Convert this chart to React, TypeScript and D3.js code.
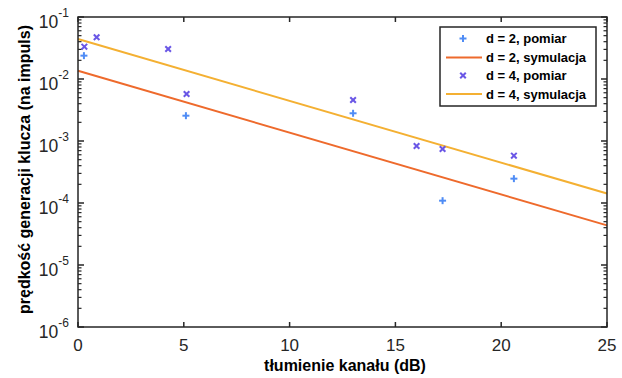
import React from "react";
import * as d3 from "d3";

const W = 622, H = 378;
const M = { left: 78, right: 15, top: 17, bottom: 51 };

const xTicks = [0, 5, 10, 15, 20, 25];
const yExponents = [-1, -2, -3, -4, -5, -6];

const d2MeasX = [0.28, 5.1, 13.0, 17.23, 20.6];
const d2MeasY = [0.0238, 0.00256, 0.0028, 1.09e-4, 2.47e-4];

const d4MeasX = [0.3, 0.88, 4.26, 5.13, 13.0, 16.0, 17.23, 20.6];
const d4MeasY = [0.0332, 0.0471, 0.0305, 0.00573, 0.00458, 8.3e-4, 7.43e-4, 5.8e-4];

const simX = [0, 25];
const d2SimY = [0.0136, 4.35e-5];
const d4SimY = [0.0441, 1.42e-4];

const legendLabels = ["d = 2, pomiar", "d = 2, symulacja", "d = 4, pomiar", "d = 4, symulacja"];

const C_PLUS = "#4f8cf5";
const C_X = "#6a57e6";
const C_ORANGE = "#ee6a2c";
const C_YELLOW = "#f4b032";
const AX = "#262626";
const FONT = "'Liberation Sans', Arial, Helvetica, sans-serif";

export default function App() {
  const x = d3.scaleLinear().domain([0, 25]).range([M.left, W - M.right]);
  const y = d3.scaleLog().domain([1e-6, 1e-1]).range([H - M.bottom, M.top]);
  const x0 = x.range()[0], x1 = x.range()[1];
  const yb = y.range()[0], yt = y.range()[1];

  const line = d3.line<number>().x((_, i) => x(simX[i])).y((v) => y(v));

  const minor: number[] = [];
  for (let e = -6; e < -1; e++) {
    for (let k = 2; k <= 9; k++) minor.push(k * Math.pow(10, e));
  }

  const plus = (cx: number, cy: number, c: string, key: string) => (
    <g key={key} stroke={c} strokeWidth={2}>
      <line x1={cx - 3.5} x2={cx + 3.5} y1={cy} y2={cy} />
      <line x1={cx} x2={cx} y1={cy - 3.5} y2={cy + 3.5} />
    </g>
  );
  const cross = (cx: number, cy: number, c: string, key: string) => (
    <g key={key} stroke={c} strokeWidth={2}>
      <line x1={cx - 2.8} x2={cx + 2.8} y1={cy - 2.8} y2={cy + 2.8} />
      <line x1={cx - 2.8} x2={cx + 2.8} y1={cy + 2.8} y2={cy - 2.8} />
    </g>
  );

  const lg = { x: 440, y: 27, w: 156, h: 79 };
  const rowY = [38.5, 57.5, 75.5, 94];

  return (
    <svg width={W} height={H} style={{ position: "absolute", left: 0, top: 0, background: "#fff" }} fontFamily={FONT}>
      <rect x={0} y={0} width={W} height={H} fill="#fff" />
      {/* simulation lines */}
      <path d={line(d2SimY) || ""} fill="none" stroke={C_ORANGE} strokeWidth={2} />
      <path d={line(d4SimY) || ""} fill="none" stroke={C_YELLOW} strokeWidth={2} />
      {/* measurements */}
      {d2MeasX.map((v, i) => plus(x(v), y(d2MeasY[i]), C_PLUS, "p" + i))}
      {d4MeasX.map((v, i) => cross(x(v), y(d4MeasY[i]), C_X, "c" + i))}

      {/* axes box */}
      <rect x={x0} y={yt} width={x1 - x0} height={yb - yt} fill="none" stroke={AX} strokeWidth={1.5} />
      {/* x ticks */}
      {xTicks.map((t) => (
        <g key={"xt" + t}>
          <line x1={x(t)} x2={x(t)} y1={yb} y2={yb - 5} stroke={AX} strokeWidth={1.5} />
          <line x1={x(t)} x2={x(t)} y1={yt} y2={yt + 5} stroke={AX} strokeWidth={1.5} />
          <text x={x(t)} y={yb + 24} textAnchor="middle" fontSize={17} fill={AX}>{t}</text>
        </g>
      ))}
      {/* y ticks */}
      {yExponents.map((e) => {
        const yy = y(Math.pow(10, e));
        return (
          <g key={"yt" + e}>
            <line x1={x0} x2={x0 + 6} y1={yy} y2={yy} stroke={AX} strokeWidth={1.5} />
            <line x1={x1} x2={x1 - 6} y1={yy} y2={yy} stroke={AX} strokeWidth={1.5} />
            <text x={x0 - 9} y={yy + 11} textAnchor="end" fontSize={17.5} fill={AX}>
              10<tspan dy={-11} fontSize={12}>{e}</tspan>
            </text>
          </g>
        );
      })}
      {minor.map((v, i) => (
        <g key={"m" + i}>
          <line x1={x0} x2={x0 + 3.5} y1={y(v)} y2={y(v)} stroke={AX} strokeWidth={1.2} />
          <line x1={x1} x2={x1 - 3.5} y1={y(v)} y2={y(v)} stroke={AX} strokeWidth={1.2} />
        </g>
      ))}

      {/* axis labels */}
      <text x={345} y={371} textAnchor="middle" fontSize={16} fontWeight="bold" fill="#000">
        tłumienie kanału (dB)
      </text>
      <text transform={`translate(30,${169.5}) rotate(-90)`} textAnchor="middle" fontSize={16} fontWeight="bold" fill="#000">
        prędkość generacji klucza (na impuls)
      </text>

      {/* legend */}
      <rect x={lg.x} y={lg.y} width={lg.w} height={lg.h} fill="#fff" stroke={AX} strokeWidth={1.5} />
      {legendLabels.map((lab, i) => {
        const ry = rowY[i];
        let mark;
        if (i === 0) mark = plus(463, ry, C_PLUS, "lm0");
        else if (i === 2) mark = cross(463, ry, C_X, "lm2");
        else mark = <line x1={446} x2={482} y1={ry} y2={ry} stroke={i === 1 ? C_ORANGE : C_YELLOW} strokeWidth={2} />;
        return (
          <g key={"lg" + i}>
            {mark}
            <text x={486} y={ry + 4.5} fontSize={13} fontWeight="bold" fill="#000">{lab}</text>
          </g>
        );
      })}
    </svg>
  );
}
